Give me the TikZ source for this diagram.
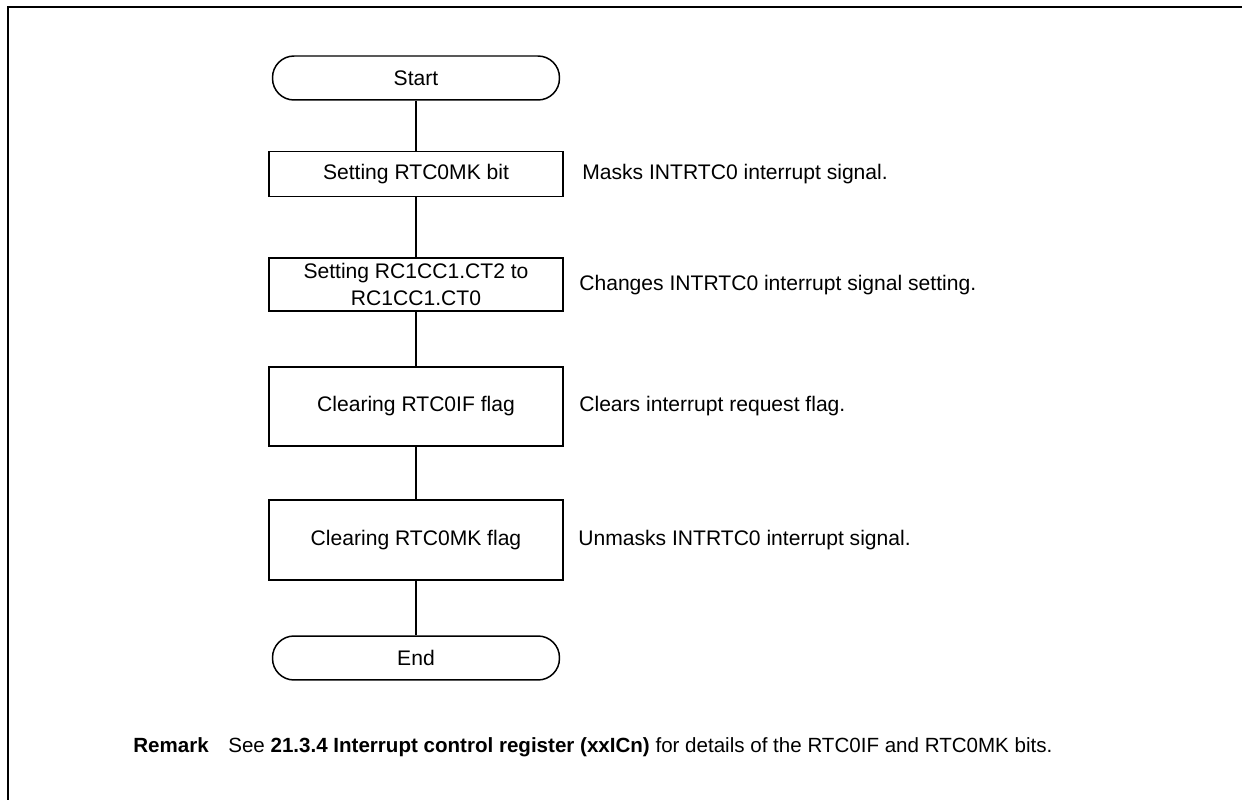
\documentclass[tikz,border=0pt]{standalone}
\usepackage{fontspec}
\setmainfont{Liberation Sans}
\tikzset{
  flowfont/.style={font=\fontsize{12}{15}\selectfont},
  term/.style={draw, line width=0.85pt, rounded corners=0.43cm, minimum width=5.74cm, minimum height=0.88cm, flowfont},
  proc/.style={draw, line width=0.85pt, minimum width=5.88cm, inner ysep=1pt, align=center, flowfont},
  note/.style={anchor=west, inner sep=0pt, flowfont},
  link/.style={line width=0.6pt}
}
\begin{document}
\begin{tikzpicture}[x=0.02cm,y=-0.02cm]
\useasboundingbox (0,0) rectangle (1242,800);
% frame
\draw[line width=1.6pt] (8,800) -- (8,7) -- (1242,7);
% flow
\node[term] (start) at (416,78) {Start};
\node[proc, minimum height=0.9cm] (setmk) at (416,174) {Setting RTC0MK bit};
\node[proc, minimum height=1.06cm] (setct) at (416,284.5) {Setting RC1CC1.CT2 to\\RC1CC1.CT0};
\node[proc, minimum height=1.58cm] (clrif) at (416,406.5) {Clearing RTC0IF flag};
\node[proc, minimum height=1.6cm] (clrmk) at (416,540) {Clearing RTC0MK flag};
\node[term] (end) at (416,658) {End};
\draw[link] (start) -- (setmk) -- (setct) -- (clrif) -- (clrmk) -- (end);
% notes
\node[note] (n1) at (582,174) {Masks INTRTC0 interrupt signal.};
\node[note] (n2) at (579,285) {Changes INTRTC0 interrupt signal setting.};
\node[note] (n3) at (579,406) {Clears interrupt request flag.};
\node[note] (n4) at (578,540) {Unmasks INTRTC0 interrupt signal.};
% remark
\node[note, font=\fontsize{11.7}{14}\selectfont] (remark) at (133,747) {\textbf{Remark}\hspace{0.95em}See \textbf{21.3.4 Interrupt control register (xxICn)} for details of the RTC0IF and RTC0MK bits.};
\end{tikzpicture}
\end{document}
